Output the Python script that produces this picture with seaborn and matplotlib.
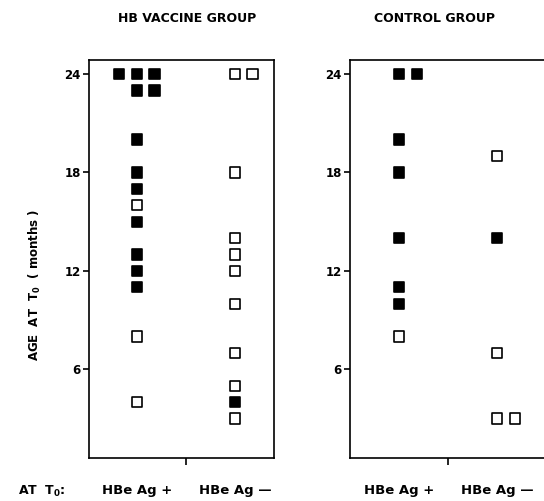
import numpy as np
import pandas as pd
import matplotlib.pyplot as plt
import seaborn as sns

sns.set_style("white")
plt.rcParams['font.family'] = ['DejaVu Sans']
plt.rcParams['font.weight'] = 'bold'
plt.rcParams['mathtext.fontset'] = 'dejavusans'
plt.rcParams['text.color'] = 'black'
plt.rcParams['xtick.color'] = 'black'
plt.rcParams['ytick.color'] = 'black'
plt.rcParams['axes.labelcolor'] = 'black'

# age at T0 (months) and whether the square is filled (1) or open (0)
vaccine_pos_age = [24, 24, 24, 23, 23, 20, 18, 17, 16, 15, 13, 12, 11, 8, 4]
vaccine_pos_filled = [1, 1, 1, 1, 1, 1, 1, 1, 0, 1, 1, 1, 1, 0, 0]
vaccine_neg_age = [24, 24, 18, 14, 13, 12, 10, 7, 5, 4, 3]
vaccine_neg_filled = [0, 0, 0, 0, 0, 0, 0, 0, 0, 1, 0]
control_pos_age = [24, 24, 20, 18, 14, 11, 10, 8]
control_pos_filled = [1, 1, 1, 1, 1, 1, 1, 0]
control_neg_age = [19, 14, 7, 3, 3]
control_neg_filled = [0, 1, 0, 0, 0]

groups = ["HB VACCINE GROUP", "CONTROL GROUP"]
status_labels = ["HBe Ag +", "HBe Ag \u2014"]
yticks = [6, 12, 18, 24]


def make_df(group, status, ages, filled):
    return pd.DataFrame({"group": group, "status": status, "age": ages, "filled": filled})


df = pd.concat([
    make_df(groups[0], 0, vaccine_pos_age, vaccine_pos_filled),
    make_df(groups[0], 1, vaccine_neg_age, vaccine_neg_filled),
    make_df(groups[1], 0, control_pos_age, control_pos_filled),
    make_df(groups[1], 1, control_neg_age, control_neg_filled),
], ignore_index=True)

# side-by-side placement of identical ages: centre, right, left
slot = df.groupby(["group", "status", "age"]).cumcount()
df["x"] = df["status"] + slot.map({0: 0.0, 1: 1.0, 2: -1.0}) * 0.18

fig = plt.figure(figsize=(5.44, 5.01), dpi=100)
ax1 = fig.add_axes([89 / 544, 1 - 458 / 501, 185 / 544, 398 / 501])
ax2 = fig.add_axes([350 / 544, 1 - 458 / 501, 205 / 544, 398 / 501])

for ax, group, xlim in [(ax1, groups[0], (-0.49, 1.40)), (ax2, groups[1], (-0.5, 1.59))]:
    sub = df[df["group"] == group]
    sns.scatterplot(data=sub, x="x", y="age", hue="filled",
                    palette={1: "black", 0: "white"}, marker="s", s=55,
                    edgecolor="black", linewidth=1.2, legend=False, ax=ax)
    ax.set_xlim(*xlim)
    ax.set_ylim(0.6, 24.85)
    ax.set_yticks(yticks)
    ax.set_yticklabels([str(t) for t in yticks], fontsize=8.5, fontweight="bold")
    ax.set_xticks([0, 1])
    ax.set_xticklabels(status_labels, fontsize=9.5, fontweight="bold")
    ax.tick_params(axis="x", which="major", length=0, pad=19)
    ax.set_xticks([0.5], minor=True)
    ax.tick_params(axis="x", which="minor", length=5, width=1.2, direction="out", bottom=True)
    ax.tick_params(axis="y", length=4, width=1.2, direction="out", left=True, pad=2)
    ax.set_xlabel("")
    ax.set_ylabel("")
    for sp in ax.spines.values():
        sp.set_linewidth(1.2)
        sp.set_color("black")

fig.text(187 / 544, 1 - 19 / 501, groups[0], ha="center", va="center", fontsize=9, fontweight="bold")
fig.text(435 / 544, 1 - 19 / 501, groups[1], ha="center", va="center", fontsize=9, fontweight="bold")
fig.text(18 / 544, 1 - 491 / 501, r"AT  $\mathbf{T_0}$:", ha="left", va="center", fontsize=9, fontweight="bold")
fig.text(35 / 544, 1 - 285 / 501, r"AGE  AT  $\mathbf{T_0}$  ( months )", ha="center", va="center",
         rotation=90, fontsize=8.5, fontweight="bold")

fig.savefig("out.png", dpi=100)
